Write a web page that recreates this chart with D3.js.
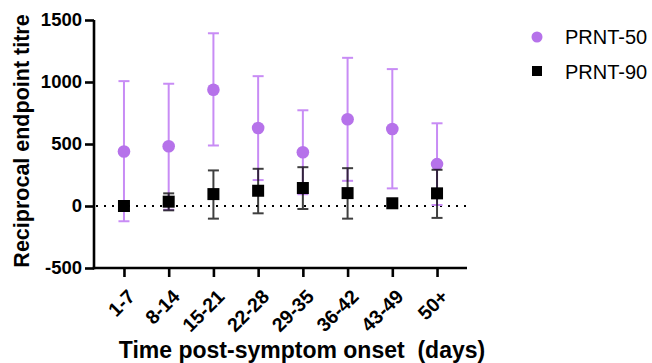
<!DOCTYPE html>
<html>
<head>
<meta charset="utf-8">
<script src="https://cdn.jsdelivr.net/npm/d3@7"></script>
<style>
  body { margin: 0; background: #fff; }
  text { font-family: "Liberation Sans", Arial, sans-serif; }
</style>
</head>
<body>
<svg id="chart" width="652" height="363"></svg>
<script>
// data
const categories = ["1-7", "8-14", "15-21", "22-28", "29-35", "36-42", "43-49", "50+"];
const prnt50Mean = [440, 482, 938, 629, 434, 699, 621, 338];
const prnt50Low = [-123, -30, 488, 209, 95, 203, 142, 8];
const prnt50High = [1007, 986, 1393, 1047, 772, 1195, 1104, 667];
const prnt90Mean = [0, 35, 96, 123, 145, 104, 22, 102];
const prnt90Low = [0, -35, -102, -59, -24, -102, 22, -96];
const prnt90High = [0, 102, 287, 300, 313, 305, 22, 292];
const yTicks = [-500, 0, 500, 1000, 1500];

const svg = d3.select("#chart");

const x = d3.scalePoint()
  .domain(categories)
  .range([94, 467])
  .padding(0.67);

const y = d3.scaleLinear()
  .domain([-500, 1500])
  .range([268, 20]);

// dotted zero line
svg.append("line")
  .attr("x1", 96).attr("x2", 467)
  .attr("y1", y(0)).attr("y2", y(0))
  .attr("stroke", "#000")
  .attr("stroke-width", 2)
  .attr("stroke-dasharray", "2,6");

// axes
const yAxis = svg.append("g")
  .attr("transform", "translate(94,0)")
  .call(d3.axisLeft(y).tickValues(yTicks).tickFormat(d => String(d)).tickSize(9).tickPadding(3));
const xAxis = svg.append("g")
  .attr("transform", "translate(0,268)")
  .call(d3.axisBottom(x).tickSize(9).tickSizeOuter(0));

[yAxis, xAxis].forEach(g => {
  g.attr("font-family", null);
  g.select(".domain").attr("stroke", "#000").attr("stroke-width", 2.6);
  g.selectAll(".tick line").attr("stroke", "#000").attr("stroke-width", 2.6);
});
xAxis.select(".domain").attr("d", "M92.7,0H467");
yAxis.select(".domain").attr("d", "M0,20V269.3");

yAxis.attr("font-size", 18.5);
yAxis.selectAll("text")
  .attr("font-size", 18.5).attr("font-weight", "bold").attr("fill", "#000");

xAxis.attr("font-size", 19.5);
xAxis.selectAll("text")
  .attr("font-size", 19.5).attr("font-weight", "bold").attr("fill", "#000")
  .attr("text-anchor", "end")
  .attr("dy", "0.35em")
  .attr("y", 0)
  .attr("transform", "translate(7,25) rotate(-45)");

// axis titles
svg.append("text")
  .attr("transform", "translate(29,141) rotate(-90)")
  .attr("text-anchor", "middle")
  .attr("font-size", 21.5).attr("font-weight", "bold")
  .text("Reciprocal endpoint titre");

svg.append("text")
  .attr("x", 302).attr("y", 358)
  .attr("text-anchor", "middle")
  .attr("font-size", 23).attr("font-weight", "bold")
  .style("white-space", "pre")
  .text("Time post-symptom onset  (days)");

// error bars
function errorBars(low, high, color, cap, opacity) {
  const g = svg.append("g").attr("stroke", color).attr("stroke-width", 2).attr("opacity", opacity);
  categories.forEach((c, i) => {
    if (low[i] === high[i]) return;
    const cx = x(c);
    g.append("line").attr("x1", cx).attr("x2", cx).attr("y1", y(low[i])).attr("y2", y(high[i]));
    g.append("line").attr("x1", cx - cap).attr("x2", cx + cap).attr("y1", y(low[i])).attr("y2", y(low[i]));
    g.append("line").attr("x1", cx - cap).attr("x2", cx + cap).attr("y1", y(high[i])).attr("y2", y(high[i]));
  });
}

errorBars(prnt50Low, prnt50High, "#c88cf5", 5.5, 1);

svg.append("g").selectAll("circle")
  .data(prnt50Mean)
  .enter()
  .append("circle")
  .attr("cx", (d, i) => x(categories[i]))
  .attr("cy", d => y(d))
  .attr("r", 6.3)
  .attr("fill", "#b672ea");

errorBars(prnt90Low, prnt90High, "#000", 5.5, 0.75);

svg.append("g").selectAll("rect")
  .data(prnt90Mean)
  .enter()
  .append("rect")
  .attr("x", (d, i) => x(categories[i]) - 6)
  .attr("y", d => y(d) - 6)
  .attr("width", 12)
  .attr("height", 12)
  .attr("fill", "#000");

// legend
svg.append("circle").attr("cx", 537).attr("cy", 37).attr("r", 5.5).attr("fill", "#b672ea");
svg.append("text").attr("x", 565).attr("y", 44).attr("font-size", 20).text("PRNT-50");
svg.append("rect").attr("x", 532).attr("y", 66).attr("width", 10).attr("height", 10).attr("fill", "#000");
svg.append("text").attr("x", 565).attr("y", 79).attr("font-size", 20).text("PRNT-90");
</script>
</body>
</html>
